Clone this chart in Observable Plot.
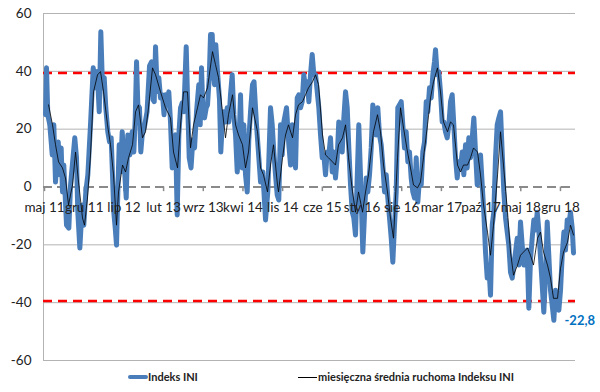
<!DOCTYPE html>
<html><head><meta charset="utf-8">
<script src="https://cdn.jsdelivr.net/npm/d3@7"></script>
<script src="https://cdn.jsdelivr.net/npm/@observablehq/plot@0.6"></script>
<style>
body{margin:0;background:#fff;font-family:Lato,"Open Sans",sans-serif;}
#wrap{position:relative;width:600px;height:392px;overflow:hidden;}
#chart svg{display:block;}
.sw{position:absolute;}
.lt{position:absolute;font-size:11px;font-weight:700;color:#222;white-space:nowrap;line-height:14px;}
</style></head><body>
<div id="wrap"><div id="chart"></div>
<div class="sw" style="left:128px;top:375px;width:20px;height:4px;background:#4a7ebb;border-radius:2px"></div>
<div class="lt" id="l1" style="left:148px;top:370px"></div>
<div class="sw" style="left:298px;top:377px;width:19px;height:1px;background:#000"></div>
<div class="lt" id="l2" style="left:318px;top:370px"></div>
</div>
<script>
// miesiące od maja 2011 (0 = maj 2011)
const okresIndeks = [0.18,0.35,0.58,0.93,1.36,1.64,1.94,2.42,2.70,2.94,3.17,3.40,3.88,4.29,4.59,5.34,5.64,5.87,6.23,6.65,6.93,7.28,7.64,8.11,8.59,9.0,9.29,9.65,9.93,10.23,10.53,10.81,11.16,11.46,11.76,11.99,12.22,12.47,12.70,12.93,13.17,13.40,13.70,13.99,14.41,14.69,15.04,15.47,15.75,16.0,16.23,16.46,16.75,16.98,17.23,17.64,18.08,18.52,18.87,19.14,19.35,19.58,19.88,20.16,20.46,20.81,21.08,21.34,21.64,21.92,22.22,22.52,22.80,23.10,23.40,23.69,23.99,24.29,24.57,24.99,25.27,25.52,25.84,26.16,26.46,26.81,27.21,27.46,27.69,27.92,28.22,28.52,28.75,29.05,29.28,29.58,29.75,29.98,30.21,30.51,30.86,31.09,31.34,31.62,31.92,32.22,32.51,32.80,33.10,33.39,33.69,33.99,34.27,34.57,34.87,35.15,35.45,35.75,36.03,36.33,36.68,36.95,37.39,37.80,38.10,38.50,38.98,39.38,39.86,40.16,40.44,40.74,41.04,41.32,41.62,41.92,42.21,42.68,43.09,43.39,43.69,43.97,44.27,44.57,44.85,45.15,45.45,45.73,46.03,46.33,46.62,46.91,47.21,47.50,47.80,48.10,48.38,48.68,48.98,49.26,49.56,49.86,50.14,50.44,50.74,51.02,51.32,51.62,51.90,52.21,52.50,52.79,53.09,53.39,53.67,53.97,54.27,54.55,54.85,55.43,55.73,56.14,56.49,56.74,57.02,57.32,57.62,57.90,58.20,58.50,58.78,59.08,59.38,59.67,59.97,60.27,60.55,60.85,61.15,61.43,61.73,62.03,62.31,62.61,62.91,63.19,63.49,63.79,64.08,64.37,64.67,64.96,65.26,65.56,65.84,66.14,66.44,66.72,67.02,67.32,67.60,67.90,68.20,68.49,68.78,68.96,69.26,69.54,69.84,70.14,70.43,70.72,71.02,71.31,71.61,71.90,72.19,72.49,72.79,73.07,73.37,73.67,73.95,74.25,74.55,74.83,75.13,75.43,75.72,76.02,76.32,76.60,76.90,77.20,77.48,77.78,78.08,78.36,78.66,78.96,79.24,79.54,79.84,80.13,80.43,80.72,81.01,81.31,81.61,81.89,82.19,82.49,82.77,83.07,83.37,83.65,83.95,84.25,84.54,84.83,85.13,85.42,85.71,86.01,86.30,86.60,86.90,87.18,87.48,87.78,88.06,88.36,88.66,88.94,89.24,89.54,89.83,90.13,90.43,90.71,91.01,91.31,91.60,91.89,92.19,92.47,92.77,93.07,93.30];
const indeks = [25,41.2,25,21.5,11.1,21.5,1.7,15.6,4.2,13.5,-1.7,7.6,-13.2,-14.2,0.7,17.0,10.1,-8.7,-21.1,-6.2,-13.2,-1.7,4.2,21.5,41.2,34.3,39.9,26.0,53.7,34.3,37.8,27.4,19.1,15.6,17.0,4.2,-8.7,-14.2,-20.1,-1.7,14.6,5.2,19.1,10.1,-3.8,18.0,11.1,19.1,12.1,23.9,43.3,28.4,27.4,12.1,18.0,21,26.0,41.9,43.3,30.2,29.5,48.5,33,37.8,30.8,31.9,25.0,31.9,28.4,32.9,22.5,6.6,17.0,18.0,-9.7,18.0,27.4,29.1,26.0,48.5,27.4,10.1,6.6,16.3,13.5,26.0,35.4,21.5,41.2,27.4,23.9,27.4,28.4,37.8,52.7,52.7,41.2,35.4,49.2,39.9,30.2,12.1,21.5,26.0,22.5,27.4,22.5,31.9,38.8,25.0,18.0,5.2,13.5,31.9,6.6,21.5,4.2,-1.7,16.3,26.0,35.4,36.4,21.5,10.1,1.7,5.2,-11.4,-1.7,27.4,21.5,12.1,4.2,-2.8,-4.5,21.5,11.1,22.5,27.4,14.6,7.6,21.5,18.0,6.6,30.8,31.9,27.4,29.5,38.8,34.3,36.4,29.5,38.8,45.8,38.8,38.8,32.9,27.4,18.0,10.1,11.1,4.2,12.1,11.1,17.0,5.2,12.1,3.1,10.1,22.5,15.6,12.1,23.9,32.9,27.4,13.5,0.7,-8.7,-10.7,-16.6,21.5,4.2,-22.5,-7.3,3.1,-1.7,4.2,13.5,28.4,23.9,18.0,27.4,18.0,14.6,7.6,-1.7,4.2,-3.8,-10.7,-17.7,-26.0,-13.2,-1.7,27.4,28.4,29.5,21.5,13.5,19.1,8.7,12.1,3.1,-1.7,-3.8,10.1,-5.2,3.1,0.7,12.1,15.6,29.5,26.0,34.3,30.8,38.8,43.3,47.5,38.8,39.9,32.9,22.5,22.5,19.1,17.0,21.5,29.5,31.9,21.5,10.1,3.1,8.7,6.6,12.1,4.2,14.6,6.6,17.0,10.1,17.0,23.9,12.1,0.7,7.6,11.1,0.7,-8.7,-22.5,-31.5,-27.0,-37.4,-13.2,-8.7,10.1,21.5,23.9,26.0,12.1,-1.7,-10.7,-15.6,-20.1,-29.5,-31.5,-27.0,-22.5,-17.7,-27.0,-12.1,-20.1,-27.0,-24.6,-21.8,-41.9,-25.3,-17.7,-11.4,-14.9,-8.7,-14.9,-24.6,-34.0,-43.3,-30.5,-12.1,-23.6,-35.7,-40.9,-46.1,-35.7,-40.9,-42.6,-35.7,-23.6,-15.6,-21.8,-11.4,-13.2,-8.7,-14.2,-22.8];
const okresSrednia = [0.71,1.41,1.94,2.47,3.17,3.70,4.23,4.94,5.47,6.0,6.70,7.05,7.58,8.11,8.64,9.35,9.88,10.41,11.11,11.64,12.17,12.70,13.05,13.76,14.29,14.82,15.52,16.05,16.58,17.28,17.81,18.34,19.05,19.58,20.46,21.34,22.22,22.75,23.46,23.99,24.52,25.22,25.75,26.28,26.98,27.51,28.04,28.75,29.63,30.16,30.69,31.39,31.92,32.45,33.16,33.69,34.22,34.92,35.45,35.98,36.68,37.57,38.10,38.62,39.33,39.86,40.39,41.09,41.27,41.98,42.51,43.03,43.74,44.27,44.80,45.50,46.03,46.56,47.27,47.80,48.33,49.03,49.56,50.09,50.79,51.32,51.85,52.56,53.09,53.62,54.32,54.85,55.38,56.09,56.62,57.14,58.02,58.73,59.26,59.79,60.49,61.02,61.55,62.26,62.79,63.32,64.02,64.55,65.08,65.79,66.31,66.84,67.55,68.08,68.61,69.31,69.84,70.37,71.08,71.61,72.13,72.84,73.37,73.90,74.60,75.13,75.66,76.37,76.90,77.43,78.13,78.66,79.19,79.90,80.43,80.95,81.66,82.19,82.72,83.42,83.95,84.48,85.19,85.71,86.24,86.95,87.48,88.01,88.71,89.24,89.77,90.48,91.01,91.54,92.24,92.77,93.30];
const srednia = [28.4,21.5,14.6,8.7,6.6,3.1,-6.2,0.7,12.1,1.7,-10.7,-13.2,-3.8,11.1,32.9,38.8,39.9,32.9,21.5,14.6,4.2,-13.2,-1.7,7.6,5.2,10.1,14.6,26.0,28.4,17.0,19.1,27.4,41.2,38.8,32.9,27.4,23.9,12.1,6.6,21.5,32.9,32.9,13.5,21.5,27.4,31.9,30.8,34.3,46.8,42.3,37.8,26.0,17.0,25.0,31.9,21.5,18.0,14.6,6.6,12.1,27.4,19.1,6.6,4.2,-1.7,7.6,14.6,0.7,-1.7,10.1,18.0,21.5,17.0,25.0,28.4,29.5,31.9,34.3,36.4,38.8,35.4,18.0,11.1,10.1,8.7,7.6,14.6,17.0,21.5,10.1,-1.7,-8.7,-1.7,-8.7,-1.7,4.2,19.1,25.0,19.1,7.6,-1.7,-10.7,-17.7,10.1,27.4,20.4,12.1,6.6,0.7,-0.3,1.7,10.1,21.5,30.8,36.4,41.2,32.9,22.5,19.1,22.5,21.5,7.6,5.2,7.6,7.6,10.1,13.5,12.1,4.2,-6.2,-15.6,-23.6,-13.2,4.2,19.1,7.6,-8.7,-22.5,-30.5,-27.0,-23.6,-22.5,-21.1,-23.6,-27.0,-17.7,-15.6,-22.5,-27.0,-31.5,-38.5,-38.5,-28.1,-22.5,-19.1,-13.2,-16.6];
// etykiety osi X i ich położenie (miesiące od maja 2011)
const etykietyX = ["maj 11","gru 11","lip 12","lut 13","wrz 13","kwi 14","lis 14","cze 15","sty 16","sie 16","mar 17","paź 17","maj 18","gru 18"];
const miesiaceEtykiet = [0,7,14,21,28,35,42,49,56,63,70,77,84,91];
const tickiY = [-60,-40,-20,0,20,40,60];
const progi = [39.4,-39.4];
const serie = ["Indeks INI","miesięczna średnia ruchoma Indeksu INI"];

const niebieski = "#4a7ebb";
const daneIndeks = okresIndeks.map((m,i)=>({m, v: indeks[i]}));
const daneSrednia = okresSrednia.map((m,i)=>({m, v: srednia[i]}));
const daneEtykiet = miesiaceEtykiet.map((m,i)=>({m, label: etykietyX[i]}));
const ostatni = daneIndeks[daneIndeks.length-1];

const chart = Plot.plot({
  width: 600, height: 368,
  marginLeft: 43, marginRight: 25, marginTop: 13, marginBottom: 8,
  x: {domain: [-0.18, 93.65], axis: null},
  y: {domain: [-60, 60]},
  style: {fontFamily: "Lato, 'Open Sans', sans-serif", fontSize: "13px", color: "#222", background: "#fff"},
  marks: [
    Plot.gridY(tickiY.filter(d => d !== 0), {stroke: "#b3b3b3", strokeOpacity: 1}),
    Plot.ruleX([-0.18], {stroke: "#b3b3b3"}),
    Plot.ruleY([0], {stroke: "#8a8a8a", strokeWidth: 2, strokeDasharray: "9,5"}),
    Plot.ruleX(miesiaceEtykiet, {y1: 0, y2: -1.6, stroke: "#8a8a8a", strokeWidth: 1.5}),
    Plot.ruleY(progi, {stroke: "#ff0000", strokeWidth: 2.5, strokeDasharray: "9,6"}),
    Plot.line(daneIndeks, {x: "m", y: "v", stroke: niebieski, strokeWidth: 5}),
    Plot.line(daneSrednia, {x: "m", y: "v", stroke: "#000", strokeWidth: 0.8}),
    Plot.text(daneEtykiet, {x: "m", y: () => 0, text: "label", dy: 21, fontSize: 13.5, fill: "#222"}),
    Plot.axisY(tickiY, {tickSize: 0, tickPadding: 12, label: null, fontSize: 13.5, tickFormat: d => String(d)}),
    Plot.text([ostatni], {x: "m", y: "v", text: d => d.v.toFixed(1).replace(".", ","), dx: -9, dy: 68, textAnchor: "start", fill: "#0070c0", fontWeight: "bold", fontSize: 13})
  ]
});
document.getElementById("chart").appendChild(chart);
document.getElementById("l1").textContent = serie[0];
document.getElementById("l2").textContent = serie[1];
</script>
</body></html>
